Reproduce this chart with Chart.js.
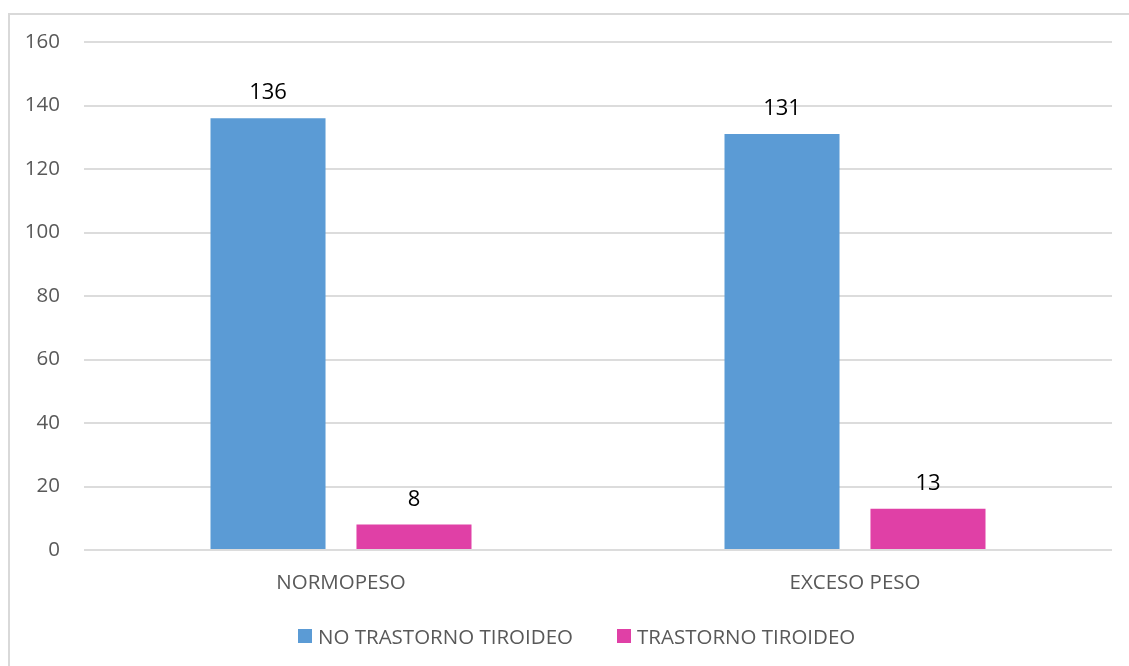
<!DOCTYPE html>
<html>
<head>
<meta charset="utf-8">
<script src="https://cdn.jsdelivr.net/npm/chart.js@4.4.1/dist/chart.umd.min.js"></script>
<style>
  html, body { margin:0; padding:0; background:#fff; overflow:hidden; }
  #frame { position:absolute; left:8px; top:13px; width:1200px; height:700px; border:2px solid #d9d9d9; box-sizing:border-box; }
  #wrap { position:absolute; left:0; top:0; width:1129px; height:666px; }
  #legend { position:absolute; left:298px; top:624px; display:flex; align-items:center; gap:44px;
            font-family:'Open Sans', sans-serif; font-size:20.5px; color:#595959; line-height:24px; }
  #legend .item { display:flex; align-items:center; gap:6px; white-space:nowrap; }
  #legend .box { width:14px; height:14px; }
</style>
</head>
<body>
<div id="frame"></div>
<div id="wrap"><canvas id="weightChart"></canvas></div>
<div id="legend"></div>
<script>
// weight groups and counts per thyroid status
const categories = ['NORMOPESO', 'EXCESO PESO'];
const seriesNames = ['NO TRASTORNO TIROIDEO', 'TRASTORNO TIROIDEO'];
const seriesColors = ['#5b9bd5', '#e040a6'];
const noTrastorno = [136, 131];
const trastorno = [8, 13];
const yTicks = [0, 20, 40, 60, 80, 100, 120, 140, 160];

Chart.defaults.font.family = "'Open Sans', sans-serif";
Chart.defaults.color = '#595959';

// value labels above each bar
const barValues = {
  id: 'barValues',
  afterDatasetsDraw(chart) {
    const ctx = chart.ctx;
    ctx.save();
    ctx.font = "22px 'Open Sans', sans-serif";
    ctx.fillStyle = '#000';
    ctx.textAlign = 'center';
    ctx.textBaseline = 'alphabetic';
    chart.data.datasets.forEach((ds, i) => {
      chart.getDatasetMeta(i).data.forEach((bar, j) => {
        ctx.fillText(String(ds.data[j]), bar.x, bar.y - 19);
      });
    });
    ctx.restore();
  }
};

const chart = new Chart(document.getElementById('weightChart'), {
  type: 'bar',
  data: {
    labels: categories,
    datasets: [
      { label: seriesNames[0], data: noTrastorno, backgroundColor: seriesColors[0], borderWidth: 0 },
      { label: seriesNames[1], data: trastorno, backgroundColor: seriesColors[1], borderWidth: 0 }
    ]
  },
  options: {
    responsive: true,
    maintainAspectRatio: false,
    animation: false,
    categoryPercentage: 0.568,
    barPercentage: 0.788,
    layout: { padding: { left: 0, right: 17, top: 42, bottom: 0 } },
    plugins: {
      legend: { display: false },
      tooltip: { enabled: false }
    },
    scales: {
      x: {
        grid: { display: false },
        border: { display: false },
        ticks: { font: { size: 20.5 }, color: '#595959', padding: 13 },
        afterFit: s => { s.height = 116; s.paddingLeft = 0; s.paddingRight = 0; }
      },
      y: {
        min: 0, max: 160,
        afterBuildTicks: s => { s.ticks = yTicks.map(v => ({ value: v })); },
        grid: { color: '#dcdcdc', lineWidth: 2, drawTicks: false },
        border: { display: false },
        ticks: { font: { size: 20.5 }, color: '#595959', padding: 24 },
        afterFit: s => { s.width = 84; s.paddingTop = 0; s.paddingBottom = 0; }
      }
    }
  },
  plugins: [barValues]
});

// legend row built from the dataset names and colours
document.getElementById('legend').innerHTML = chart.data.datasets.map(ds =>
  `<div class="item"><span class="box" style="background:${ds.backgroundColor}"></span><span>${ds.label}</span></div>`
).join('');
</script>
</body>
</html>
